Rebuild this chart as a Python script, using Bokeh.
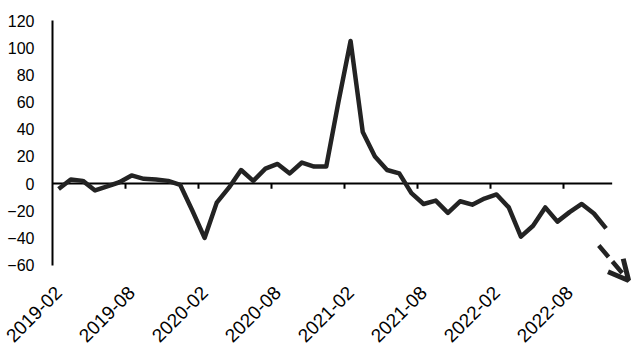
import math
from bokeh.plotting import figure
from bokeh.models import (LinearAxis, FixedTicker, Range1d, Arrow, OpenHead)
from bokeh.embed import file_html
from bokeh.resources import INLINE

# ---- data ----
months = [
    "2019-02", "2019-03", "2019-04", "2019-05", "2019-06", "2019-07", "2019-08",
    "2019-09", "2019-10", "2019-11", "2019-12", "2020-01", "2020-02", "2020-03",
    "2020-04", "2020-05", "2020-06", "2020-07", "2020-08", "2020-09", "2020-10",
    "2020-11", "2020-12", "2021-01", "2021-02", "2021-03", "2021-04", "2021-05",
    "2021-06", "2021-07", "2021-08", "2021-09", "2021-10", "2021-11", "2021-12",
    "2022-01", "2022-02", "2022-03", "2022-04", "2022-05", "2022-06", "2022-07",
    "2022-08", "2022-09", "2022-10", "2022-11",
]
values = [
    -4, 3, 2, -5, -2, 1, 6, 3.5, 3, 2, -1, -20, -40, -14,
    -3, 10, 2, 11, 14.5, 7.5, 15.5, 12.5, 12.5, 60, 105, 38, 20, 10,
    7.5, -7, -15, -12.5, -21.5, -13, -15.5, -11, -8, -17.5, -39, -31, -17.5, -28,
    -21, -15, -22, -33,
]
y_ticks = [-60, -40, -20, 0, 20, 40, 60, 80, 100, 120]
label_step = 6
# trend arrow (annotation), in data units: month index / value
arrow_start = (44.4, -45.6)
arrow_end = (46.85, -71.3)

x = list(range(len(months)))
label_idx = list(range(0, len(months), label_step))
boundary_ticks = [i - 0.5 for i in label_idx[1:]]
x_first = -0.5
x_last = len(months) - 0.5

FONT = "Liberation Sans"
INK = "#000000"
LINE = "#232323"
TICK_LEN = 3.7  # in value units (~5 px)

p = figure(width=637, height=363, output_backend="svg", toolbar_location=None,
           x_range=Range1d(-0.5, 47.5), y_range=Range1d(-75, 123),
           x_axis_type=None, y_axis_type=None,
           min_border_left=52, min_border_right=1, min_border_top=16,
           min_border_bottom=78)
p.outline_line_color = None
p.grid.visible = False
p.background_fill_color = "white"
p.border_fill_color = "white"

# y axis
yax = LinearAxis(ticker=FixedTicker(ticks=y_ticks), bounds=(-60, 120))
yax.axis_line_color = INK
yax.axis_line_width = 2
yax.major_tick_out = 0
yax.major_tick_in = 0
yax.minor_tick_out = 0
yax.minor_tick_in = 0
yax.major_label_standoff = 18
yax.major_label_text_font = FONT
yax.major_label_text_font_size = "16px"
yax.major_label_text_color = INK
p.add_layout(yax, "left")

# x labels axis
xlab = LinearAxis(ticker=FixedTicker(ticks=label_idx))
xlab.major_label_overrides = {i: months[i] for i in label_idx}
xlab.axis_line_color = None
xlab.major_tick_out = 0
xlab.major_tick_in = 0
xlab.minor_tick_out = 0
xlab.minor_tick_in = 0
xlab.major_label_orientation = math.pi / 4
xlab.major_label_standoff = 4
xlab.major_label_text_font = FONT
xlab.major_label_text_font_size = "19px"
xlab.major_label_text_color = INK
p.add_layout(xlab, "below")

# zero line with category-boundary ticks
p.segment(x0=[x_first], y0=[0], x1=[x_last], y1=[0], line_color=INK, line_width=2)
p.segment(x0=boundary_ticks, y0=[0] * len(boundary_ticks),
          x1=boundary_ticks, y1=[-TICK_LEN] * len(boundary_ticks),
          line_color=INK, line_width=2)

p.line(x, values, line_color=LINE, line_width=4.5, line_join="round")

p.add_layout(Arrow(end=OpenHead(size=20, line_width=5, line_color=LINE),
                   x_start=arrow_start[0], y_start=arrow_start[1],
                   x_end=arrow_end[0], y_end=arrow_end[1],
                   line_color=LINE, line_width=4.5, line_dash="15 6"))

open("out.html", "w").write(file_html(p, INLINE))
